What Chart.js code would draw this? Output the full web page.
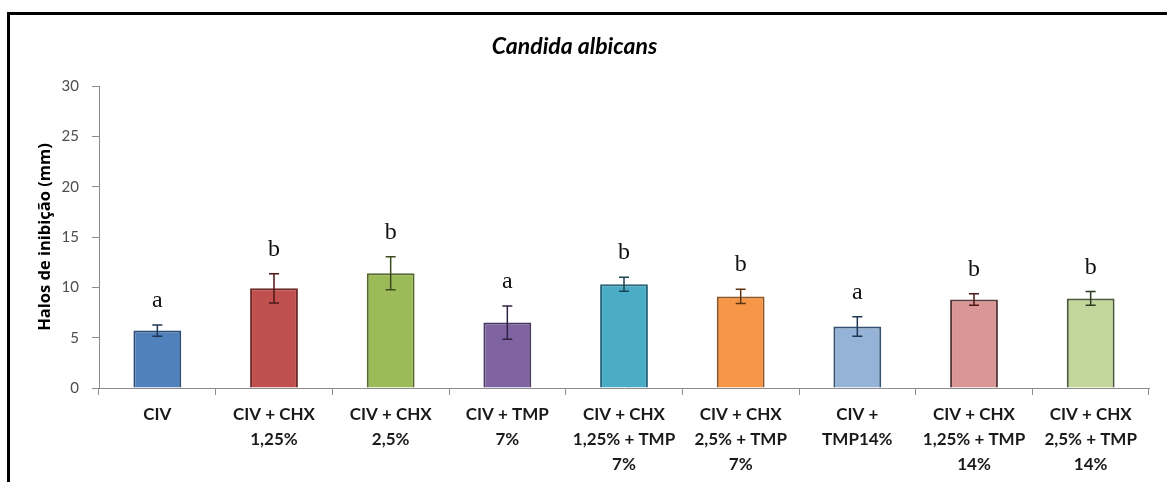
<!DOCTYPE html>
<html>
<head>
<meta charset="utf-8">
<script src="https://cdn.jsdelivr.net/npm/chart.js@4.4.1/dist/chart.umd.min.js"></script>
<style>
  html, body { margin: 0; padding: 0; background: #fff; overflow: hidden; }
  #wrap { position: relative; width: 1167px; height: 482px; }
  #frame { position: absolute; left: 7px; top: 12px; width: 1200px; height: 520px;
           border-left: 3px solid #000; border-top: 3px solid #000; box-sizing: border-box; }
  canvas { position: absolute; left: 0; top: 0; }
</style>
</head>
<body>
<div id="wrap">
  <div id="frame"></div>
  <canvas id="chart" width="1167" height="482"></canvas>
</div>
<script>
// Inhibition halo diameters (mm) for each material, mean ± standard deviation
const categories = [
  ["CIV"],
  ["CIV + CHX", "1,25%"],
  ["CIV + CHX", "2,5%"],
  ["CIV + TMP", "7%"],
  ["CIV + CHX", "1,25% + TMP", "7%"],
  ["CIV + CHX", "2,5% + TMP", "7%"],
  ["CIV +", "TMP14%"],
  ["CIV + CHX", "1,25% + TMP", "14%"],
  ["CIV + CHX", "2,5% + TMP", "14%"]
];
const means = [5.7, 9.9, 11.4, 6.5, 10.3, 9.1, 6.1, 8.8, 8.9];
const errors = [0.55, 1.45, 1.65, 1.65, 0.7, 0.7, 0.97, 0.57, 0.68];
const letters = ["a", "b", "b", "a", "b", "b", "a", "b", "b"];
const yTicks = [0, 5, 10, 15, 20, 25, 30];

// Bar fills, their outlines and the error-bar ink
const fills = ["#4F81BD", "#C0504D", "#9BBB59", "#8064A2", "#4BACC6", "#F79646", "#95B3D7", "#D99694", "#C3D69B"];
const edges = ["#2B4A73", "#6E2B29", "#55692F", "#473860", "#2A6577", "#8F5424", "#34506F", "#5A3A3A", "#4A5838"];
const whiskers = ["#1E3553", "#4A1716", "#3B4A1F", "#2E2340", "#1B4452", "#5E3312", "#1E3553", "#4A1716", "#2F3A22"];

// Error bars and significance letters drawn over the bars
const annotate = {
  id: "annotate",
  afterDatasetsDraw(chart) {
    const ctx = chart.ctx;
    const y = chart.scales.y;
    const meta = chart.getDatasetMeta(0);
    ctx.save();
    meta.data.forEach((bar, i) => {
      const x = bar.x;
      const top = y.getPixelForValue(means[i] + errors[i]);
      const bot = y.getPixelForValue(means[i] - errors[i]);
      ctx.strokeStyle = whiskers[i];
      ctx.lineWidth = 1.5;
      ctx.beginPath();
      ctx.moveTo(x, top); ctx.lineTo(x, bot);
      ctx.moveTo(x - 5, top); ctx.lineTo(x + 5, top);
      ctx.moveTo(x - 5, bot); ctx.lineTo(x + 5, bot);
      ctx.stroke();
      ctx.fillStyle = "#111";
      ctx.font = "24px 'Liberation Serif', serif";
      ctx.textAlign = "center";
      ctx.textBaseline = "alphabetic";
      ctx.fillText(letters[i], x, top - 18);
    });
    ctx.restore();
  }
};

new Chart(document.getElementById("chart"), {
  type: "bar",
  data: {
    labels: categories,
    datasets: [{
      data: means,
      backgroundColor: fills,
      borderColor: edges,
      borderWidth: 2,
      barPercentage: 0.41,
      categoryPercentage: 1.0
    }]
  },
  options: {
    responsive: false,
    animation: false,
    events: [],
    layout: { padding: { left: 0, right: 18, top: 20, bottom: 0 } },
    plugins: {
      legend: { display: false },
      tooltip: { enabled: false },
      title: {
        display: true,
        text: "Candida albicans",
        color: "#000",
        font: { family: "Lato, sans-serif", size: 23, style: "italic", weight: "bold", lineHeight: 1.2 },
        padding: { top: 13.2, bottom: 25.2 }
      }
    },
    scales: {
      x: {
        afterFit(scale) { scale.height = 94; },
        grid: { display: true, drawOnChartArea: false, drawTicks: true, tickLength: 7, color: "#8c8c8c", offset: true },
        border: { display: true, color: "#8c8c8c", width: 1 },
        ticks: {
          color: "#1a1a1a",
          padding: 7,
          maxRotation: 0,
          autoSkip: false,
          font: { family: "Lato, sans-serif", size: 17, weight: "bold", lineHeight: 1.47 }
        }
      },
      y: {
        min: 0,
        max: 30,
        afterFit(scale) { scale.width = 99; },
        afterBuildTicks(scale) { scale.ticks = yTicks.map(v => ({ value: v })); },
        grid: { display: true, drawOnChartArea: false, drawTicks: true, tickLength: 7, color: "#8c8c8c" },
        border: { display: true, color: "#8c8c8c", width: 1 },
        ticks: {
          color: "#4d4d4d",
          padding: 13,
          font: { family: "Lato, sans-serif", size: 15 }
        },
        title: {
          display: true,
          text: "Halos de inibição (mm)",
          color: "#000",
          font: { family: "'Open Sans', sans-serif", size: 16.5, weight: "bold", lineHeight: 1.2 },
          padding: { top: 35, bottom: 0 }
        }
      }
    }
  },
  plugins: [annotate]
});
</script>
</body>
</html>
